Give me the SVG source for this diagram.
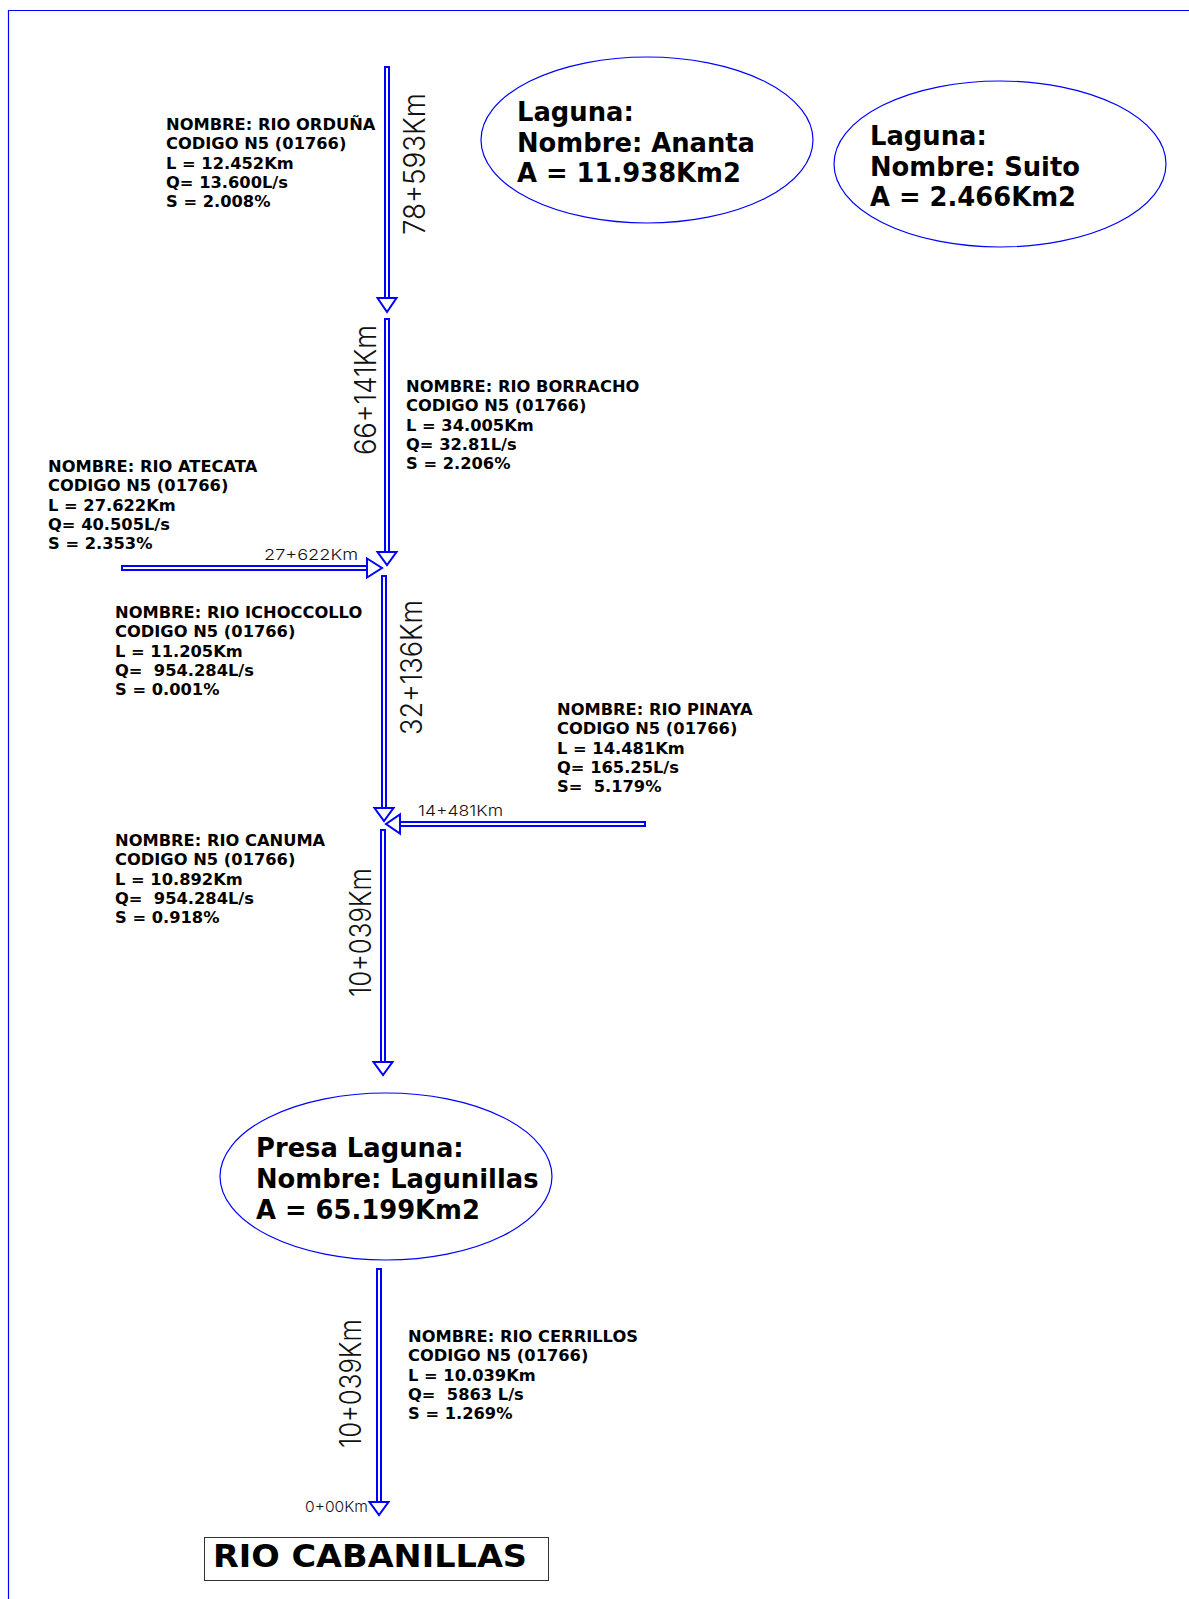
<svg xmlns="http://www.w3.org/2000/svg" width="1189" height="1599" viewBox="0 0 1189 1599">
<style>
.frame{stroke:#0000ff;stroke-width:1.2;fill:none}
.shaft{fill:#fff;stroke:#0000ff;stroke-width:2}
.head{fill:#fff;stroke:#0000ff;stroke-width:2;stroke-linejoin:miter}
.lake{fill:#fff;stroke:#0000ff;stroke-width:1.2}
.info{font-family:"DejaVu Sans","Verdana",sans-serif;font-weight:bold;font-size:16.3px;fill:#000;white-space:pre}
.lk{font-family:"DejaVu Sans","Verdana",sans-serif;font-weight:bold;font-size:25.8px;fill:#000}
.dim{font-family:"Inter","Roboto","DejaVu Sans",sans-serif;font-weight:300;fill:#111}
.dv{font-size:30px}
.dh{font-size:15px}
.title{font-family:"DejaVu Sans","Verdana",sans-serif;font-weight:bold;font-size:32px;fill:#000}
</style>
<rect width="1189" height="1599" fill="#fff"/>
<path class="frame" d="M8.5,1599 V10.5 H1189"/>

<g id="connectors">
  <!-- Orduña -->
  <rect class="shaft" x="385" y="67" width="4" height="232"/>
  <polygon class="head" points="377.5,298 396.5,298 387,312"/>
  <!-- Borracho -->
  <rect class="shaft" x="385" y="319" width="4" height="234"/>
  <polygon class="head" points="377.5,552 396.5,552 387,565"/>
  <!-- Atecata -->
  <rect class="shaft" x="122" y="566" width="246" height="4"/>
  <polygon class="head" points="367,558.5 367,577.5 382,568"/>
  <!-- Ichoccollo -->
  <rect class="shaft" x="382" y="576" width="4" height="233"/>
  <polygon class="head" points="374.5,808 393.5,808 384,821"/>
  <!-- Pinaya -->
  <rect class="shaft" x="399" y="822" width="246" height="4"/>
  <polygon class="head" points="400,814.5 400,833.5 386,824"/>
  <!-- Canuma -->
  <rect class="shaft" x="381" y="830" width="4" height="233"/>
  <polygon class="head" points="373.5,1062 392.5,1062 383,1075"/>
  <!-- Cerrillos -->
  <rect class="shaft" x="377" y="1269" width="4" height="234"/>
  <polygon class="head" points="369.5,1502 388.5,1502 379,1515"/>

  <text class="dim dv" transform="translate(425,235) rotate(-90)" textLength="142" lengthAdjust="spacingAndGlyphs">78+593Km</text>
  <text class="dim dv" transform="translate(376,455) rotate(-90)" textLength="130" lengthAdjust="spacingAndGlyphs">66+141Km</text>
  <text class="dim dv" transform="translate(422,735) rotate(-90)" textLength="135" lengthAdjust="spacingAndGlyphs">32+136Km</text>
  <text class="dim dv" transform="translate(371,997) rotate(-90)" textLength="129" lengthAdjust="spacingAndGlyphs">10+039Km</text>
  <text class="dim dv" transform="translate(361,1448) rotate(-90)" textLength="129" lengthAdjust="spacingAndGlyphs">10+039Km</text>
  <text class="dim dh" x="264" y="560" textLength="94" lengthAdjust="spacingAndGlyphs">27+622Km</text>
  <text class="dim dh" x="418" y="816" textLength="85" lengthAdjust="spacingAndGlyphs">14+481Km</text>
  <text class="dim dh" x="305" y="1512" textLength="63" lengthAdjust="spacingAndGlyphs">0+00Km</text>
</g>

<g id="rio-orduna">
  <text class="info" x="166" y="130"><tspan x="166">NOMBRE: RIO ORDUÑA</tspan><tspan x="166" dy="19.3">CODIGO N5 (01766)</tspan><tspan x="166" dy="19.3">L = 12.452Km</tspan><tspan x="166" dy="19.3">Q= 13.600L/s</tspan><tspan x="166" dy="19.3">S = 2.008%</tspan></text>
</g>
<g id="rio-borracho">
  <text class="info" x="406" y="392"><tspan x="406">NOMBRE: RIO BORRACHO</tspan><tspan x="406" dy="19.3">CODIGO N5 (01766)</tspan><tspan x="406" dy="19.3">L = 34.005Km</tspan><tspan x="406" dy="19.3">Q= 32.81L/s</tspan><tspan x="406" dy="19.3">S = 2.206%</tspan></text>
</g>
<g id="rio-atecata">
  <text class="info" x="48" y="472"><tspan x="48">NOMBRE: RIO ATECATA</tspan><tspan x="48" dy="19.3">CODIGO N5 (01766)</tspan><tspan x="48" dy="19.3">L = 27.622Km</tspan><tspan x="48" dy="19.3">Q= 40.505L/s</tspan><tspan x="48" dy="19.3">S = 2.353%</tspan></text>
</g>
<g id="rio-ichoccollo">
  <text class="info" x="115" y="618"><tspan x="115">NOMBRE: RIO ICHOCCOLLO</tspan><tspan x="115" dy="19.3">CODIGO N5 (01766)</tspan><tspan x="115" dy="19.3">L = 11.205Km</tspan><tspan x="115" dy="19.3">Q=  954.284L/s</tspan><tspan x="115" dy="19.3">S = 0.001%</tspan></text>
</g>
<g id="rio-pinaya">
  <text class="info" x="557" y="715"><tspan x="557">NOMBRE: RIO PINAYA</tspan><tspan x="557" dy="19.3">CODIGO N5 (01766)</tspan><tspan x="557" dy="19.3">L = 14.481Km</tspan><tspan x="557" dy="19.3">Q= 165.25L/s</tspan><tspan x="557" dy="19.3">S=  5.179%</tspan></text>
</g>
<g id="rio-canuma">
  <text class="info" x="115" y="846"><tspan x="115">NOMBRE: RIO CANUMA</tspan><tspan x="115" dy="19.3">CODIGO N5 (01766)</tspan><tspan x="115" dy="19.3">L = 10.892Km</tspan><tspan x="115" dy="19.3">Q=  954.284L/s</tspan><tspan x="115" dy="19.3">S = 0.918%</tspan></text>
</g>
<g id="rio-cerrillos">
  <text class="info" x="408" y="1342"><tspan x="408">NOMBRE: RIO CERRILLOS</tspan><tspan x="408" dy="19.3">CODIGO N5 (01766)</tspan><tspan x="408" dy="19.3">L = 10.039Km</tspan><tspan x="408" dy="19.3">Q=  5863 L/s</tspan><tspan x="408" dy="19.3">S = 1.269%</tspan></text>
</g>

<g id="laguna-ananta">
  <ellipse class="lake" cx="647" cy="140" rx="166" ry="83"/>
  <text class="lk" x="517" y="121"><tspan x="517">Laguna:</tspan><tspan x="517" dy="30.5">Nombre: Ananta</tspan><tspan x="517" dy="30.5">A = 11.938Km2</tspan></text>
</g>
<g id="laguna-suito">
  <ellipse class="lake" cx="1000" cy="164" rx="166" ry="83"/>
  <text class="lk" x="870" y="145"><tspan x="870">Laguna:</tspan><tspan x="870" dy="30.5">Nombre: Suito</tspan><tspan x="870" dy="30.5">A = 2.466Km2</tspan></text>
</g>
<g id="presa-lagunillas">
  <ellipse class="lake" cx="386" cy="1176.5" rx="166" ry="83.5"/>
  <text class="lk" x="256" y="1157"><tspan x="256">Presa Laguna:</tspan><tspan x="256" dy="31">Nombre: Lagunillas</tspan><tspan x="256" dy="31">A = 65.199Km2</tspan></text>
</g>
<g id="rio-cabanillas">
  <rect x="204.5" y="1537.5" width="344" height="43" fill="#fff" stroke="#333" stroke-width="1"/>
  <text class="title" x="213" y="1567" textLength="314" lengthAdjust="spacingAndGlyphs">RIO CABANILLAS</text>
</g>
</svg>
